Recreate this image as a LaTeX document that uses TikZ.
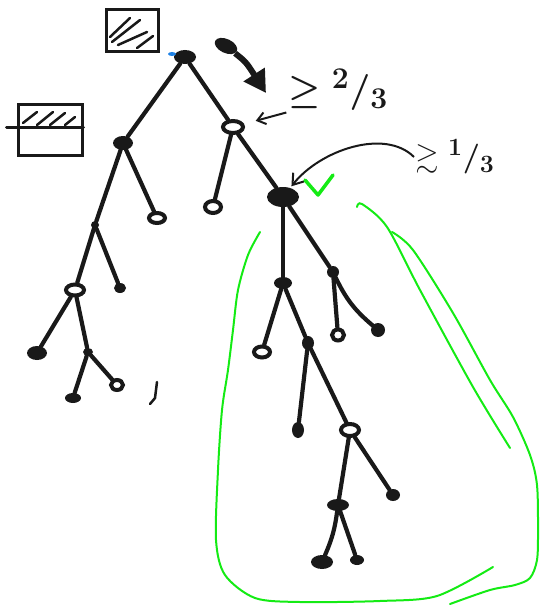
\documentclass[tikz,border=0pt]{standalone}
\usepackage{amsmath, amssymb}
\usetikzlibrary{arrows.meta, shapes.geometric}
\definecolor{InkBlack}{RGB}{25,25,25}
\definecolor{MarkGreen}{RGB}{20,235,20}
\definecolor{DotBlue}{RGB}{30,130,230}

\begin{document}
\begin{tikzpicture}[x=1pt, y=-1pt]

\tikzset{
blob/.style args={#1/#2}{
ellipse,
fill=InkBlack,
inner sep=0pt,
minimum width=#1pt,
minimum height=#2pt
},
ring/.style args={#1/#2}{
ellipse,
draw=InkBlack,
fill=white,
line width=4pt,
inner sep=0pt,
minimum width=#1pt,
minimum height=#2pt
},
hatchbox/.style args={#1/#2}{
draw=InkBlack,
line width=3pt,
inner sep=0pt,
minimum width=#1pt,
minimum height=#2pt
},
branch/.style={draw=InkBlack, line width=4.2pt, line cap=round},
hatch/.style={InkBlack, line width=2.5pt, line cap=round},
loop/.style={MarkGreen, line width=2pt, line cap=round},
bound/.style={inner sep=1pt, text=InkBlack, font=\Huge\boldmath, transform shape}
}

\useasboundingbox (0,0) rectangle (540,607);

% boxes
\node[hatchbox=52/42] (topbox) at (132,31) {};
\node[hatchbox=64/50] (leftbox) at (50,130) {};
\draw[hatch, line width=3pt] ([xshift=-10pt,yshift=3pt]leftbox.west) -- ([yshift=3pt]leftbox.east);
\draw[hatch] (110,37) -- (130,18);
\draw[hatch] (112,42) -- (140,20);
\draw[hatch] (118,45) -- (147,32);
\draw[hatch] (137,48) -- (153,36);
\draw[hatch] (23,123) -- (37,112);
\draw[hatch] (37,125) -- (53,112);
\draw[hatch] (50,125) -- (65,113);
\draw[hatch] (65,125) -- (75,117);

% tree
\node[blob=22/14] (R) at (185,57) {};
\node[ellipse, fill=DotBlue, inner sep=0pt, minimum width=8pt, minimum height=4pt] (dot) at (172,54) {};
\node[blob=20/14] (L1) at (123,143) {};
\node[ring=20/12] (R1) at (233,127) {};
\node[blob=8/8] (L2) at (95,225) {};
\node[ring=16/10] (Lf1) at (157,218) {};
\node[ring=18/11] (L3) at (75,290) {};
\node[blob=12/10] (Lf2) at (120,288) {};
\node[blob=20/14] (Lf3) at (37,353) {};
\node[blob=10/8] (L4) at (88,352) {};
\node[blob=16/10] (Lf4) at (73,398) {};
\node[ring=12/10] (Lf5) at (117,385) {};
\node[ring=16/12] (Lf6) at (213,207) {};
\node[blob=32/20] (N) at (283,197) {};
\node[blob=18/12] (A) at (283,283) {};
\node[blob=12/12] (M) at (333,272) {};
\node[ring=12/11] (Lf7) at (338,335) {};
\node[blob=14/14] (Lf8) at (378,330) {};
\node[ring=16/11] (Lf9) at (262,352) {};
\node[blob=12/14] (B) at (308,343) {};
\node[blob=12/16] (Lf10) at (298,430) {};
\node[ring=18/12] (C) at (350,430) {};
\node[blob=22/12] (D) at (338,505) {};
\node[blob=14/12] (Lf11) at (393,495) {};
\node[blob=22/14] (Lf12) at (322,562) {};
\node[blob=14/10] (Lf13) at (357,560) {};

\draw[branch] (R) -- (L1);
\draw[branch] (R) -- (R1);
\draw[branch] (L1) -- (L2);
\draw[branch] (L1) -- (Lf1);
\draw[branch] (L2) -- (L3);
\draw[branch] (L2) -- (Lf2);
\draw[branch] (L3) -- (Lf3);
\draw[branch] (L3) -- (L4);
\draw[branch] (L4) -- (Lf4);
\draw[branch] (L4) -- (Lf5);
\draw[branch] (R1) -- (Lf6);
\draw[branch] (R1) -- (N);
\draw[branch] (N) -- (A);
\draw[branch] (N) -- (M);
\draw[branch] (M) -- (Lf7);
\draw[branch] (M) to[bend right=12] (Lf8);
\draw[branch] (A) -- (Lf9);
\draw[branch] (A) -- (B);
\draw[branch] (B) -- (Lf10);
\draw[branch] (B) -- (C);
\draw[branch] (C) -- (D);
\draw[branch] (C) -- (Lf11);
\draw[branch] (D) to[bend left=8] (Lf12);
\draw[branch] (D) -- (Lf13);
\draw[hatch] (157,382) -- (155,398) -- (150,404);

% labels
\node[bound, scale=1.45] (twothirds) at (338,90) {$\geq{}^{2}/_{3}$};
\node[bound, scale=1.2] (onethird) at (455,157) {$\gtrsim{}^{1}/_{3}$};

\node[blob=24/14, rotate=-25] (pen) at (226,46) {};
\coordinate (penTip) at (266,93);
\draw[InkBlack, line width=6pt, -{Triangle[length=22pt, width=24pt]}] (pen) .. controls (246,62) .. (penTip);
\draw[InkBlack, line width=2pt, shorten >=12pt, -{Straight Barb[length=8pt, width=12pt]}] (twothirds.south west) -- (R1);
\draw[InkBlack, line width=2pt, shorten >=2pt, -{Straight Barb[length=10pt, width=14pt]}] (onethird.west) .. controls (385,128) and (320,150) .. (N);
\draw[MarkGreen, line width=3.5pt, line cap=round, line join=round] (305,180) -- (318,195) -- (333,175);

% green outline
\draw[loop] plot[smooth] coordinates {(260,232) (248,255) (238,290) (233,330) (228,370) (222,410) (218,470) (216,540) (225,575) (255,598) (300,602) (380,601) (437,596) (493,567)};
\draw[loop] plot[smooth] coordinates {(392,232) (413,250) (453,313) (490,380) (513,417) (530,455) (537,485) (538,530) (537,560) (530,578) (515,585) (490,590) (450,604)};
\draw[loop] plot[smooth] coordinates {(357,207) (362,204) (387,227) (420,290) (473,387) (510,448)};

\end{tikzpicture}
\end{document}
